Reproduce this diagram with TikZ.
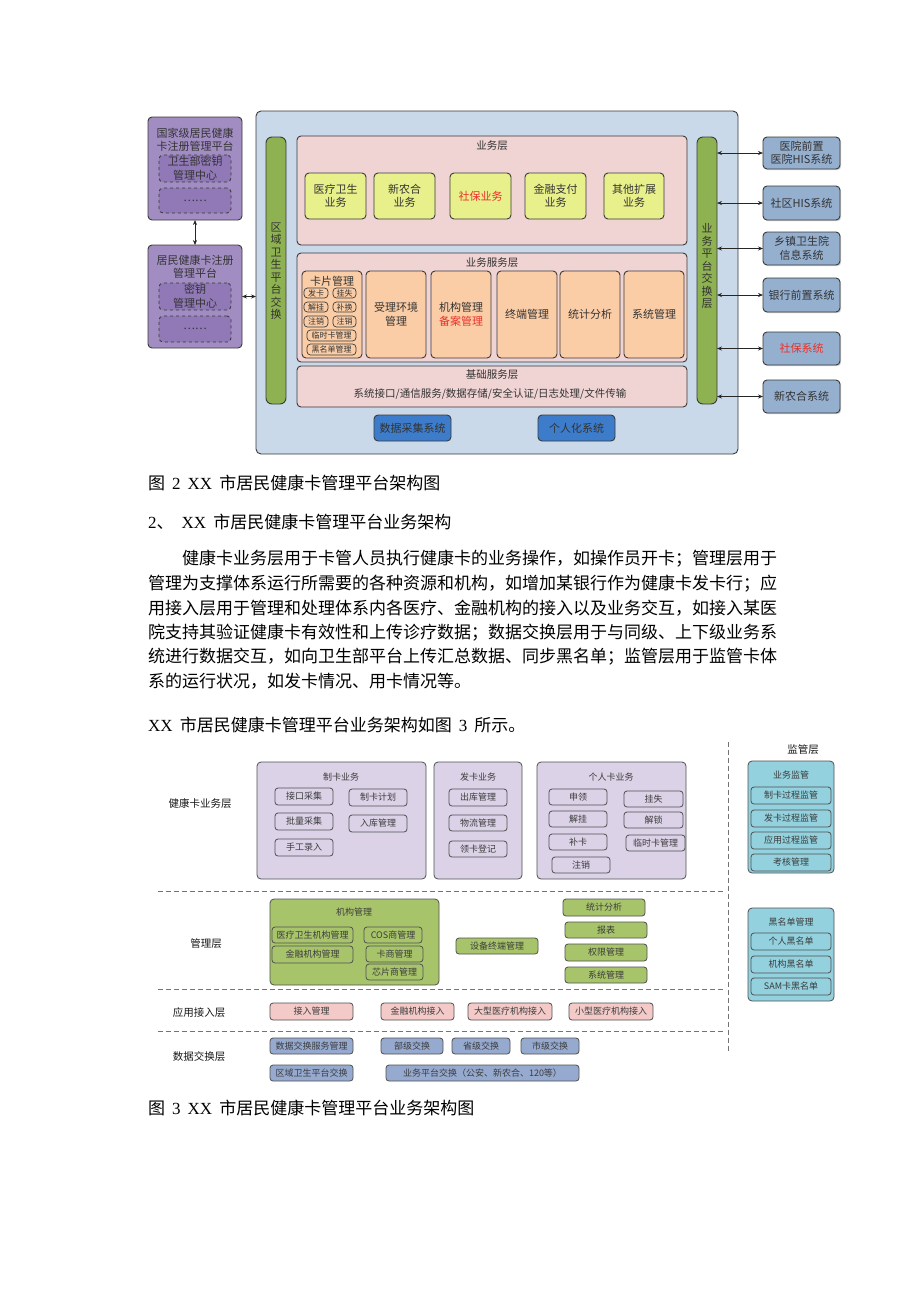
\documentclass[tikz,border=0pt]{standalone}
\usepackage{fontspec}
\setmainfont{Noto Sans CJK SC}
\newfontfamily\tnr{Liberation Serif}
\usetikzlibrary{arrows.meta,calc,shadows}
\definecolor{txA}{HTML}{333333}
\definecolor{bdA}{HTML}{3A3A3A}
\definecolor{purA}{HTML}{A28DC3}
\definecolor{purB}{HTML}{9079B6}
\definecolor{contA}{HTML}{C9D9E9}
\definecolor{grA}{HTML}{8EB152}
\definecolor{pinkA}{HTML}{F0D3D3}
\definecolor{yelA}{HTML}{E8F08C}
\definecolor{oraA}{HTML}{FBCDA6}
\definecolor{bluA}{HTML}{3C7CCB}
\definecolor{sysA}{HTML}{95AFCF}
\definecolor{redA}{HTML}{E8312A}
\definecolor{purC}{HTML}{DBD2E7}
\definecolor{grC}{HTML}{A8C46B}
\definecolor{pinkC}{HTML}{F3CAC8}
\definecolor{bluC}{HTML}{96AAD0}
\definecolor{cyaC}{HTML}{92D1DD}
\definecolor{txC}{HTML}{3C3C3C}
\definecolor{bdC}{HTML}{505050}
\newcommand\fsz[2]{\fontsize{#1}{#2}\selectfont}
\newcommand\bx[7]{\node[#2,anchor=north west,inner sep=0pt,outer sep=0pt,minimum width={#5-#3},minimum height={#6-#4}] (#1) at (#3,#4) {#7};}
\begin{document}
\begin{tikzpicture}[x=1pt,y=-1pt,
  tA/.style={font=\fsz{11}{13.5},text=txA,align=center},
  boxA/.style={draw=bdA,line width=0.9pt,rounded corners=4pt,tA},
  dboxA/.style={boxA,dashed,fill=purB},
  pill/.style={draw=bdA,line width=0.7pt,rounded corners=3.5pt,fill=oraA,font=\fsz{8}{9},text=txA},
  sysbox/.style={boxA,fill=sysA,drop shadow={shadow xshift=1.2pt,shadow yshift=-1.2pt,opacity=0.35}},
  vt/.style={font=\fsz{11}{12.5},text=txA,align=center,inner sep=0pt},
  dbl/.style={{Stealth[length=5pt,width=4pt]}-{Stealth[length=5pt,width=4pt]},line width=0.7pt,draw=black!85},
  para/.style={font=\fsz{17}{20},text=black,inner sep=0pt,anchor=west},
  tC/.style={font=\fsz{9}{11},text=txC,align=center},
  grp/.style={draw=bdC,line width=0.8pt,rounded corners=4pt},
  sub/.style={draw=bdC,line width=0.8pt,rounded corners=3pt,tC},
  lab/.style={font=\fsz{10.5}{12},text=black!90,inner sep=0pt},
  sep/.style={dashed,dash pattern=on 5pt off 3pt,draw=black!55,line width=0.8pt}]
\fill[white] (0,0) rectangle (920,1302);
\useasboundingbox (0,0) rectangle (920,1302);

% ================= Diagram 1 =================
\bx{cont}{boxA,fill=contA,rounded corners=5pt}{256}{111}{738}{454}{}
% left platforms
\bx{nat}{boxA,fill=purA}{148}{117}{242}{220}{}
\node[tA] (natT) at (195,140) {国家级居民健康\\卡注册管理平台};
\bx{natK}{dboxA}{159}{155}{231}{182}{卫生部密钥\\管理中心}
\bx{natD}{dboxA}{159}{188}{231}{213}{……}
\bx{reg}{boxA,fill=purA}{148}{245}{242}{348}{}
\node[tA] (regT) at (195,267) {居民健康卡注册\\管理平台};
\bx{regK}{dboxA}{159}{283}{231}{310}{密钥\\管理中心}
\bx{regD}{dboxA}{159}{316}{231}{342}{……}
\draw[dbl] (nat.south) -- (reg.north);
\draw[dbl] (reg.east) -- (reg.east -| cont.west);

% exchange bars
\bx{lbar}{boxA,fill=grA,rounded corners=6pt}{266}{137}{286}{404}{}
\node[vt] (lbarT) at (276,271) {区\\域\\卫\\生\\平\\台\\交\\换};
\bx{rbar}{boxA,fill=grA,rounded corners=6pt}{697}{137}{717}{404}{}
\node[vt] (rbarT) at (707,266) {业\\务\\平\\台\\交\\换\\层};

% business layer
\bx{bl}{boxA,fill=pinkA}{297}{136}{687}{245}{}
\node[tA,font=\fsz{10.5}{12}] (blT) at (492,146) {业务层};
\bx{b1}{boxA,fill=yelA}{305}{173}{366}{219}{医疗卫生\\业务}
\bx{b2}{boxA,fill=yelA}{374}{173}{435}{219}{新农合\\业务}
\bx{b3}{boxA,fill=yelA,text=redA}{450}{173}{511}{219}{社保业务}
\bx{b4}{boxA,fill=yelA}{525}{173}{586}{219}{金融支付\\业务}
\bx{b5}{boxA,fill=yelA}{604}{173}{664}{219}{其他扩展\\业务}

% business service layer
\bx{sl}{boxA,fill=pinkA}{297}{253}{687}{362}{}
\node[tA,font=\fsz{10.5}{12}] (slT) at (492,263) {业务服务层};
\bx{card}{boxA,fill=oraA}{302}{271}{362}{358}{}
\node[tA] (cardT) at (332,281) {卡片管理};
\bx{c1}{pill}{304}{288}{328}{298}{发卡}
\bx{c2}{pill}{333}{288}{356}{298}{挂失}
\bx{c3}{pill}{304}{302}{328}{312}{解挂}
\bx{c4}{pill}{333}{302}{356}{312}{补换}
\bx{c5}{pill}{304}{316}{328}{327}{注销}
\bx{c6}{pill}{333}{316}{356}{327}{注销}
\bx{c7}{pill}{307}{330}{356}{341}{临时卡管理}
\bx{c8}{pill}{307}{344}{356}{355}{黑名单管理}
\bx{s1}{boxA,fill=oraA}{366}{271}{426}{358}{受理环境\\管理}
\bx{s2}{boxA,fill=oraA}{431}{271}{491}{358}{机构管理\\\textcolor{redA}{备案管理}}
\bx{s3}{boxA,fill=oraA}{497}{271}{557}{358}{终端管理}
\bx{s4}{boxA,fill=oraA}{560}{271}{620}{358}{统计分析}
\bx{s5}{boxA,fill=oraA}{624}{271}{684}{358}{系统管理}

% basic service layer
\bx{bs}{boxA,fill=pinkA}{297}{366}{687}{407}{}
\node[tA,font=\fsz{10.5}{12}] (bsT) at (492,375) {基础服务层};
\node[tA,font=\fsz{10.5}{12}] (bsL) at (490,394) {系统接口/通信服务/数据存储/安全认证/日志处理/文件传输};

% blue systems
\bx{dc}{boxA,fill=bluA}{374}{415}{451}{441}{数据采集系统}
\bx{ps}{boxA,fill=bluA}{538}{415}{615}{441}{个人化系统}

% external systems
\bx{e1}{sysbox}{763}{137}{840}{169}{医院前置\\医院HIS系统}
\bx{e2}{sysbox}{763}{186}{840}{220}{社区HIS系统}
\bx{e3}{sysbox}{763}{232}{840}{265}{乡镇卫生院\\信息系统}
\bx{e4}{sysbox}{763}{278}{840}{312}{银行前置系统}
\bx{e5}{sysbox,text=redA}{763}{332}{840}{365}{社保系统}
\bx{e6}{sysbox}{763}{380}{840}{413}{新农合系统}
\foreach \e in {e1,e2,e3,e4,e5,e6}{\draw[dbl] (rbar.east |- \e.west) -- (\e.west);}

% ================= Text =================
\node[para] (cap2) at (148,483) {图\hspace{7pt}{\tnr 2\hspace{7pt}XX}\hspace{7pt}市居民健康卡管理平台架构图};
\node[para] (head) at (148,522) {{\tnr 2}、\hspace{8pt}{\tnr XX}\hspace{7pt}市居民健康卡管理平台业务架构};
\node[para] (p1) at (182,559) {健康卡业务层用于卡管人员执行健康卡的业务操作，如操作员开卡；管理层用于};
\node[para] (p2) at (148,583.5) {管理为支撑体系运行所需要的各种资源和机构，如增加某银行作为健康卡发卡行；应};
\node[para] (p3) at (148,608) {用接入层用于管理和处理体系内各医疗、金融机构的接入以及业务交互，如接入某医};
\node[para] (p4) at (148,632.5) {院支持其验证健康卡有效性和上传诊疗数据；数据交换层用于与同级、上下级业务系};
\node[para] (p5) at (148,657) {统进行数据交互，如向卫生部平台上传汇总数据、同步黑名单；监管层用于监管卡体};
\node[para] (p6) at (148,681.5) {系的运行状况，如发卡情况、用卡情况等。};
\node[para] (p7) at (148,725) {{\tnr XX}\hspace{7pt}市居民健康卡管理平台业务架构如图\hspace{7pt}{\tnr 3}\hspace{7pt}所示。};

% ================= Diagram 2 =================
\draw[sep] (728,742) -- (728,1052);
\draw[sep] (158,891) -- (723,891);
\draw[sep] (158,989) -- (723,989);
\draw[sep] (158,1031) -- (723,1031);

\node[lab] (L1) at (200,803) {健康卡业务层};
\node[lab] (L2) at (206,944) {管理层};
\node[lab] (L3) at (199,1013) {应用接入层};
\node[lab] (L4) at (199,1056) {数据交换层};
\node[lab] (L5) at (803,750) {监管层};

% card business layer
\bx{zk}{grp,fill=purC}{257}{762}{426}{879}{}
\node[tC] (zkT) at (341,777) {制卡业务};
\bx{zk1}{sub,fill=purC}{275}{788}{333}{805}{接口采集}
\bx{zk2}{sub,fill=purC}{349}{789}{407}{806}{制卡计划}
\bx{zk3}{sub,fill=purC}{275}{813}{333}{830}{批量采集}
\bx{zk4}{sub,fill=purC}{349}{815}{407}{832}{入库管理}
\bx{zk5}{sub,fill=purC}{275}{839}{333}{856}{手工录入}
\bx{fk}{grp,fill=purC}{434}{762}{522}{879}{}
\node[tC] (fkT) at (478,777) {发卡业务};
\bx{fk1}{sub,fill=purC}{449}{789}{507}{806}{出库管理}
\bx{fk2}{sub,fill=purC}{449}{815}{507}{831}{物流管理}
\bx{fk3}{sub,fill=purC}{449}{841}{507}{857}{领卡登记}
\bx{gr}{grp,fill=purC}{537}{762}{686}{879}{}
\node[tC] (grT) at (611,777) {个人卡业务};
\bx{gr1}{sub,fill=purC}{549}{789}{607}{805}{申领}
\bx{gr2}{sub,fill=purC}{624}{791}{683}{807}{挂失}
\bx{gr3}{sub,fill=purC}{549}{811}{607}{827}{解挂}
\bx{gr4}{sub,fill=purC}{624}{812}{683}{828}{解锁}
\bx{gr5}{sub,fill=purC}{549}{834}{607}{850}{补卡}
\bx{gr6}{sub,fill=purC}{626}{835}{685}{851}{临时卡管理}
\bx{gr7}{sub,fill=purC}{552}{857}{610}{873}{注销}

% supervision
\bx{jg}{grp,fill=cyaC}{748}{761}{834}{873}{}
\node[tC] (jgT) at (791,775) {业务监管};
\bx{jg1}{sub,fill=cyaC}{751}{787}{831}{804}{制卡过程监管}
\bx{jg2}{sub,fill=cyaC}{751}{810}{831}{827}{发卡过程监管}
\bx{jg3}{sub,fill=cyaC}{751}{832}{831}{849}{应用过程监管}
\bx{jg4}{sub,fill=cyaC}{751}{854}{831}{871}{考核管理}
\bx{hm}{grp,fill=cyaC}{748}{908}{834}{1001}{}
\node[tC] (hmT) at (791,922) {黑名单管理};
\bx{hm1}{sub,fill=cyaC}{751}{933}{831}{950}{个人黑名单}
\bx{hm2}{sub,fill=cyaC}{751}{956}{831}{973}{机构黑名单}
\bx{hm3}{sub,fill=cyaC}{751}{978}{831}{995}{SAM卡黑名单}

% management layer
\bx{jgm}{grp,fill=grC}{270}{899}{439}{985}{}
\node[tC] (jgmT) at (354,912) {机构管理};
\bx{m1}{sub,fill=grC}{272}{927}{353}{943}{医疗卫生机构管理}
\bx{m2}{sub,fill=grC}{272}{946}{353}{963}{金融机构管理}
\bx{m3}{sub,fill=grC}{364}{927}{422}{943}{COS商管理}
\bx{m4}{sub,fill=grC}{366}{946}{423}{962}{卡商管理}
\bx{m5}{sub,fill=grC}{366}{964}{423}{980}{芯片商管理}
\bx{m6}{sub,fill=grC}{456}{938}{538}{954}{设备终端管理}
\bx{m7}{sub,fill=grC}{563}{899}{645}{916}{统计分析}
\bx{m8}{sub,fill=grC}{565}{922}{647}{938}{报表}
\bx{m9}{sub,fill=grC}{565}{944}{647}{961}{权限管理}
\bx{m10}{sub,fill=grC}{565}{967}{647}{983}{系统管理}

% application access layer
\bx{a1}{sub,fill=pinkC}{270}{1003}{353}{1020}{接入管理}
\bx{a2}{sub,fill=pinkC}{381}{1003}{454}{1020}{金融机构接入}
\bx{a3}{sub,fill=pinkC}{468}{1003}{552}{1020}{大型医疗机构接入}
\bx{a4}{sub,fill=pinkC}{569}{1003}{653}{1020}{小型医疗机构接入}

% data exchange layer
\bx{x1}{sub,fill=bluC}{270}{1038}{353}{1054}{数据交换服务管理}
\bx{x2}{sub,fill=bluC}{381}{1038}{443}{1054}{部级交换}
\bx{x3}{sub,fill=bluC}{452}{1038}{510}{1054}{省级交换}
\bx{x4}{sub,fill=bluC}{521}{1038}{579}{1054}{市级交换}
\bx{x5}{sub,fill=bluC}{270}{1065}{353}{1081}{区域卫生平台交换}
\bx{x6}{sub,fill=bluC}{386}{1065}{579}{1081}{业务平台交换（公安、新农合、120等）}

\node[para] (cap3) at (148,1108) {图\hspace{7pt}{\tnr 3\hspace{7pt}XX}\hspace{7pt}市居民健康卡管理平台业务架构图};
\end{tikzpicture}
\end{document}
